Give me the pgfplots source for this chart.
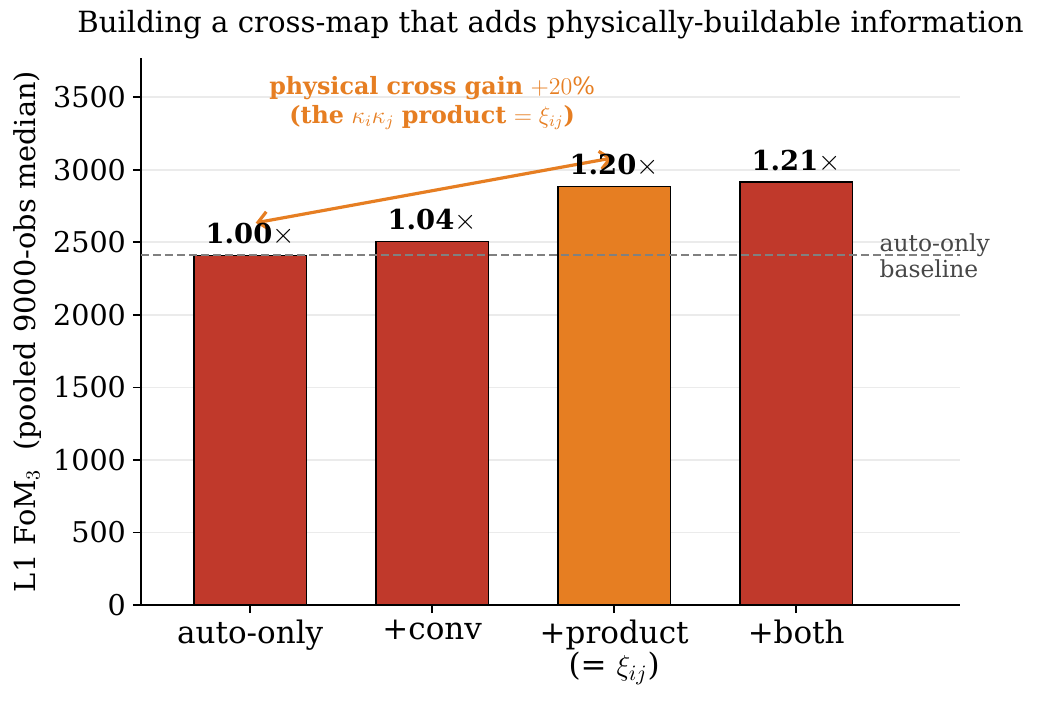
\documentclass[border=0pt]{standalone}
\usepackage{pgfplots}
\pgfplotsset{compat=1.18}
\usepackage{fontspec}
\setmainfont{DejaVu Serif}
\usetikzlibrary{arrows.meta}
\definecolor{barred}{HTML}{C0392B}
\definecolor{barorange}{HTML}{E67E22}
\definecolor{gridgray}{HTML}{EBEBEB}
\begin{document}
\begin{tikzpicture}
\begin{axis}[
    name=ax,
    scale only axis,
    width=409.5pt, height=273.5pt,
    ybar, bar width=0.62, bar shift=0pt,
    xmin=-0.6, xmax=3.9,
    ymin=0, ymax=3770,
    xtick={0,1,2,3},
    xticklabels={auto-only,+conv,{+product\\(= $\xi_{ij}$)},+both},
    xticklabel style={align=center, font=\fontsize{15.5}{14}\selectfont},
    ytick={0,500,...,3500},
    yticklabel style={font=\fontsize{14.3}{16}\selectfont},
    /pgf/number format/assume math mode=true,
    /pgf/number format/1000 sep={},
    axis lines=left,
    axis line style={-, line width=0.9pt},
    tick style={black, line width=0.8pt},
    tick align=outside,
    major tick length=4pt,
    ymajorgrids, grid style={gridgray, line width=0.8pt},
    ylabel={L1 FoM$_3$\ \ (pooled 9000-obs median)},
    ylabel style={font=\fontsize{14.4}{16}\selectfont, yshift=-1pt},
    title={Building a cross-map that adds physically-buildable information},
    title style={font=\fontsize{14.6}{16}\selectfont, yshift=0pt},
    point meta=explicit symbolic,
    nodes near coords={\textbf{\pgfplotspointmeta}$\times$},
    every node near coord/.append style={font=\fontsize{13.7}{15}\selectfont, text=black, yshift=1pt},
    clip=false,
]
\addplot[fill=barred, draw=black, line width=0.8pt] coordinates {(0,2410) [1.00] (1,2505) [1.04] (3,2915) [1.21]};
\addplot[fill=barorange, draw=black, line width=0.8pt] coordinates {(2,2885) [1.20]};
\draw[black!50, dash pattern=on 4pt off 2pt, line width=0.9pt] (axis cs:-0.6,2410) -- (axis cs:3.9,2410);
\node[anchor=west, align=left, text=black!72, font=\fontsize{11.7}{13}\selectfont, inner sep=0pt] at (axis cs:3.456,2410) {auto-only\\baseline};
\draw[barorange, line width=1.6pt, {Straight Barb[length=5pt,width=9pt]}-{Straight Barb[length=5pt,width=9pt]}] (axis cs:0.03,2634) -- (axis cs:1.99,3081);
\node[align=center, text=barorange, font=\fontsize{11.9}{14.5}\selectfont] at (axis cs:1,3460) {\textbf{physical cross gain} $+20\%$\\\textbf{(the} $\kappa_i\kappa_j$ \textbf{product} $=\xi_{ij}$\textbf{)}};
\end{axis}
\pgfresetboundingbox
\path ([shift={(-70.5pt,-50pt)}]ax.south west) rectangle ([shift={(39.5pt,29pt)}]ax.north east);
\end{tikzpicture}
\end{document}
